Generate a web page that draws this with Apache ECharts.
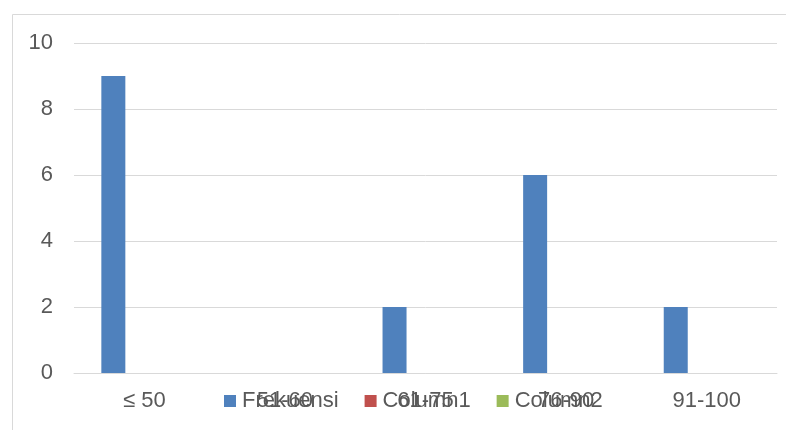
<!DOCTYPE html>
<html><head><meta charset="utf-8">
<script src="https://cdn.jsdelivr.net/npm/echarts@6/dist/echarts.min.js"></script>
<style>html,body{margin:0;padding:0;background:#fff}#c{width:786px;height:430px}</style>
</head><body><div id="c"></div>
<script>
const categories = ['≤ 50', '51-60', '61-75', '76-90', '91-100'];
const frekuensi = [9, 0, 2, 6, 2];
const column1 = [0, 0, 0, 0, 0];
const column2 = [0, 0, 0, 0, 0];
const seriesNames = ['Frekuensi', 'Column1', 'Column2'];
const colors = ['#4F81BD', '#C0504D', '#9BBB59'];

const chart = echarts.init(document.getElementById('c'), null, {renderer: 'canvas'});
const font = 'Liberation Sans';
chart.setOption({
  animation: false,
  color: colors,
  graphic: [{
    type: 'rect', left: 10, top: 12, silent: true, z: -10,
    shape: {width: 800, height: 460},
    style: {fill: 'none', stroke: '#d9d9d9', lineWidth: 1}
  }],
  grid: {left: 74, right: 9, top: 43, bottom: 57, containLabel: false},
  legend: {
    data: seriesNames, top: 390, left: 224, padding: 0,
    itemWidth: 12, itemHeight: 12, itemGap: 26,
    icon: 'rect',
    textStyle: {fontFamily: font, fontSize: 22, color: '#595959', padding: [0, 0, 0, 1]}
  },
  xAxis: {
    type: 'category', data: categories,
    axisLine: {lineStyle: {color: '#d9d9d9', width: 1}},
    axisTick: {show: false},
    axisLabel: {fontFamily: font, fontSize: 22, color: '#595959', margin: 17}
  },
  yAxis: {
    type: 'value', min: 0, max: 10, interval: 2,
    axisLine: {show: false}, axisTick: {show: false},
    splitLine: {lineStyle: {color: '#d9d9d9', width: 1}},
    axisLabel: {fontFamily: font, fontSize: 22, color: '#595959', margin: 21}
  },
  series: [
    {name: seriesNames[0], type: 'bar', data: frekuensi, barWidth: 24, barGap: '29%'},
    {name: seriesNames[1], type: 'bar', data: column1, barWidth: 24, barGap: '29%'},
    {name: seriesNames[2], type: 'bar', data: column2, barWidth: 24, barGap: '29%'}
  ]
});
</script></body></html>
